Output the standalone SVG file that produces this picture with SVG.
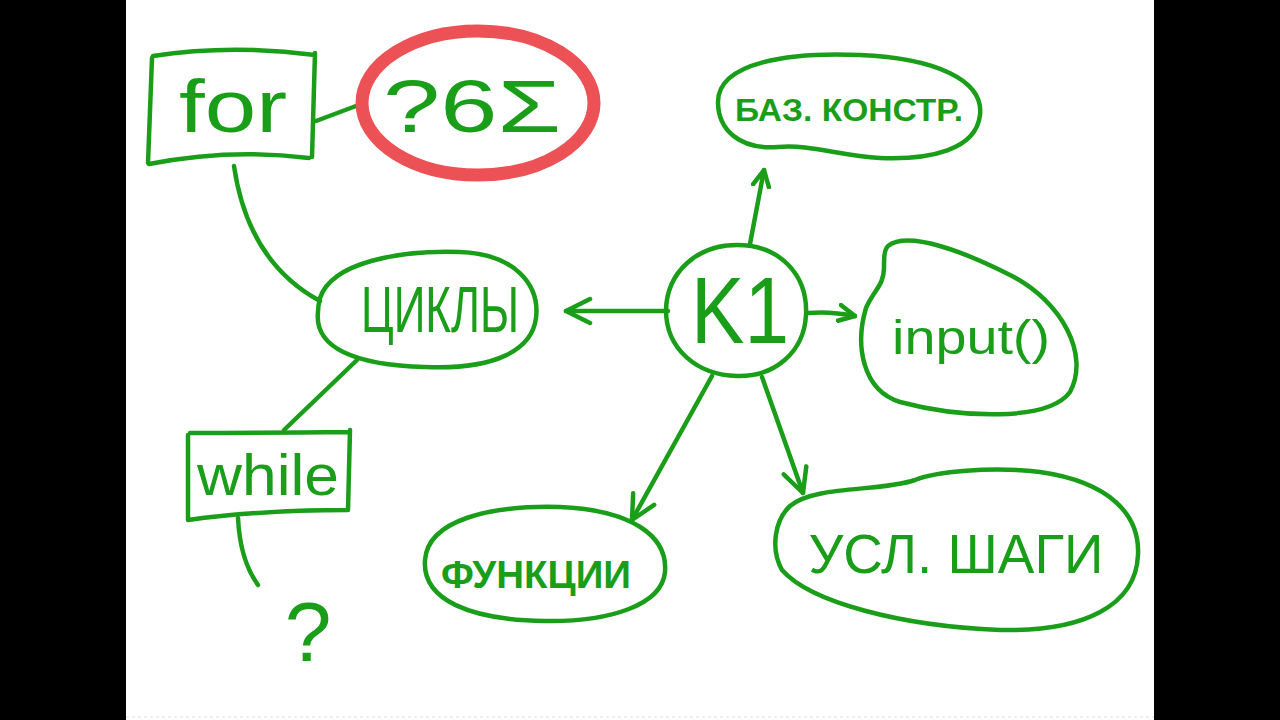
<svg xmlns="http://www.w3.org/2000/svg" width="1280" height="720" viewBox="0 0 1280 720">
<defs>
<style>
.s{fill:none;stroke:#1a9e1a;stroke-width:4.5;stroke-linecap:round;stroke-linejoin:round}
.r{fill:none;stroke:#ec5156;stroke-width:13}
.t{fill:#1a9e1a;font-family:"Liberation Sans","DejaVu Sans",sans-serif;text-anchor:middle;dominant-baseline:central}
.b{font-weight:bold}
</style>
<marker id="ah" viewBox="0 0 20 20" refX="18" refY="10" markerWidth="20" markerHeight="20" markerUnits="userSpaceOnUse" orient="auto">
<path d="M2,2 L18,10 L2,18" fill="none" stroke="#1a9e1a" stroke-width="4.5" stroke-linecap="round" stroke-linejoin="round"/>
</marker>
<marker id="ahL" viewBox="0 0 30 30" refX="27" refY="15" markerWidth="30" markerHeight="30" markerUnits="userSpaceOnUse" orient="auto">
<path d="M3,3 L27,15 L3,27" fill="none" stroke="#1a9e1a" stroke-width="4.5" stroke-linecap="round" stroke-linejoin="round"/>
</marker>
</defs>
<rect x="0" y="0" width="1280" height="720" fill="#000"/>
<rect x="126" y="0" width="1028" height="720" fill="#fff"/>
<line x1="126" y1="717" x2="1154" y2="717" stroke="#ddd" stroke-width="1" stroke-dasharray="3,3"/>

<g id="connectors">
<path class="s" d="M316,121 L356,106"/>
<path class="s" d="M234,166 Q248,262 320,301"/>
<path class="s" d="M357,360 L284,430"/>
<path class="s" d="M238,518 Q240,560 258,585"/>
<path class="s" d="M668,311 L566,311" marker-end="url(#ahL)"/>
<path class="s" d="M750,244 L764,170" marker-end="url(#ah)"/>
<path class="s" d="M808,313 Q830,311 855,316" marker-end="url(#ah)"/>
<path class="s" d="M712,376 L632,520" marker-end="url(#ahL)"/>
<path class="s" d="M762,377 L803,493" marker-end="url(#ahL)"/>
</g>

<g id="node-for">
<path class="s" d="M153,56 Q230,44 315,55 M152,58 L148,163 M315,53 L312,157 M149,164 Q230,148 309,158"/>
<text class="t" x="233" y="106" font-size="74" textLength="108" lengthAdjust="spacingAndGlyphs">for</text>
</g>

<g id="node-q6sum">
<ellipse class="r" cx="478" cy="103" rx="116" ry="72"/>
<text class="t" x="472" y="106" font-size="74" textLength="178" lengthAdjust="spacingAndGlyphs">?6Σ</text>
</g>

<g id="node-cycles">
<path class="s" d="M320,298 C332,262 400,250 460,252 C515,254 540,285 536,318 C532,350 495,370 425,367 C355,365 314,348 318,312 C318,306 319,302 320,298 Z"/>
<text class="t" x="440" y="310" font-size="64" textLength="158" lengthAdjust="spacingAndGlyphs">ЦИКЛЫ</text>
</g>

<g id="node-k1">
<path class="s" d="M737,245 C780,245 808,275 806,315 C804,352 775,377 737,376 C698,375 666,350 666,310 C667,272 697,245 737,245 Z"/>
<text class="t" x="740" y="310" font-size="94" textLength="98" lengthAdjust="spacingAndGlyphs">K1</text>
</g>

<g id="node-baz">
<path class="s" d="M718,102 C718,62 790,52 860,55 C935,58 984,80 980,115 C976,150 930,160 880,158 C840,156 810,144 778,147 C740,150 718,130 718,102 Z"/>
<text class="t b" x="849" y="110" font-size="32" textLength="228" lengthAdjust="spacingAndGlyphs">БАЗ. КОНСТР.</text>
</g>

<g id="node-input">
<path class="s" d="M888,246 C908,230 965,252 1012,276 C1062,302 1090,355 1070,392 C1048,422 960,418 900,402 C862,390 855,345 866,308 C874,290 884,285 884,268 C884,258 884,250 888,246 Z"/>
<text class="t" x="971" y="337" font-size="48" textLength="158" lengthAdjust="spacingAndGlyphs">input()</text>
</g>

<g id="node-func">
<path class="s" d="M425,560 C428,520 490,505 560,507 C630,510 668,535 665,572 C662,605 610,622 545,621 C470,620 422,600 425,560 Z"/>
<text class="t b" x="536" y="575" font-size="38" textLength="190" lengthAdjust="spacingAndGlyphs">ФУНКЦИИ</text>
</g>

<g id="node-usl">
<path class="s" d="M790,506 C815,485 880,492 915,480 C935,472 990,466 1040,472 C1110,482 1140,515 1138,555 C1136,605 1085,632 1000,630 C900,626 810,602 782,570 C770,548 775,520 790,506 Z"/>
<text class="t" x="956" y="553" font-size="56" textLength="295" lengthAdjust="spacingAndGlyphs">УСЛ. ШАГИ</text>
</g>

<g id="node-while">
<path class="s" d="M190,433 Q270,433 349,432 M188,435 L188,520 M350,430 L348,510 M188,520 Q260,510 348,510"/>
<text class="t" x="268" y="474" font-size="58" textLength="142" lengthAdjust="spacingAndGlyphs">while</text>
</g>

<g id="node-question">
<text class="t" x="308" y="632" font-size="84">?</text>
</g>
</svg>
